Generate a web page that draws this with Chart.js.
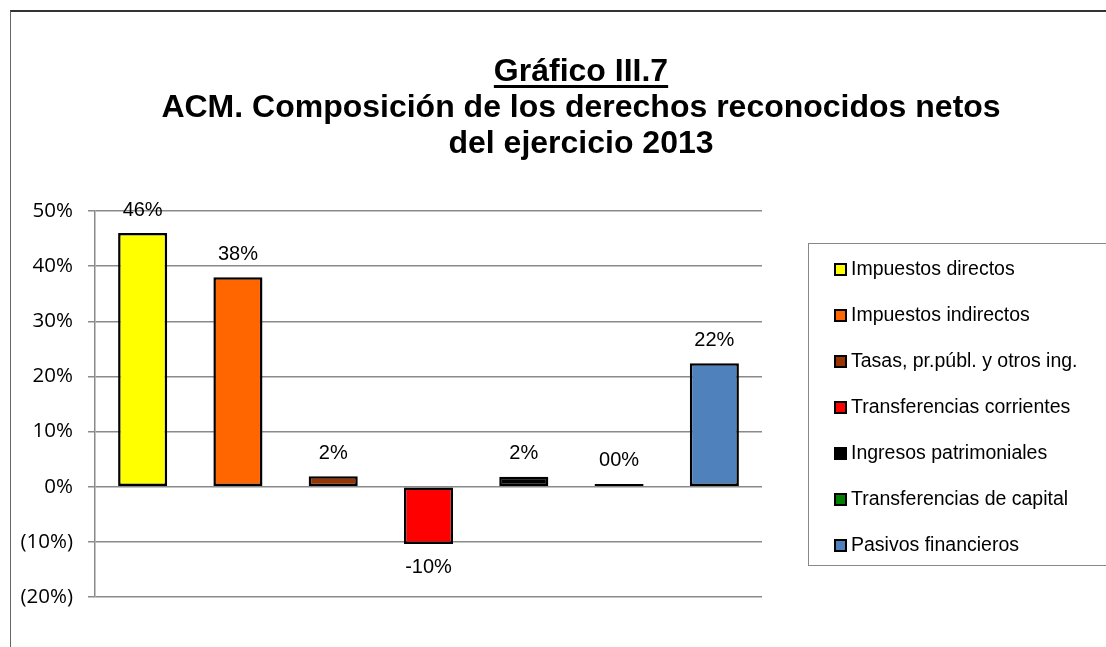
<!DOCTYPE html>
<html>
<head>
<meta charset="utf-8">
<script src="https://cdn.jsdelivr.net/npm/chart.js@4/dist/chart.umd.min.js"></script>
<style>
  body { margin: 0; background: #fff; }
  #wrap { position: relative; width: 1106px; height: 647px; overflow: hidden; font-family: "Liberation Sans", Arial, sans-serif; }
  #frame { position: absolute; left: 10px; top: 10px; width: 1200px; height: 700px; border-left: 1.5px solid #666; border-top: 2px solid #333; }
  #title { position: absolute; left: 81px; top: 52px; width: 1000px; text-align: center; font-weight: bold; font-size: 32px; line-height: 36px; color: #000; }
  #title u { text-decoration-thickness: 3px; text-underline-offset: 4px; }
  #legend { position: absolute; left: 808px; top: 243px; width: 320px; height: 321px; border: 1px solid #888; }
  .item { position: absolute; left: 25px; height: 24px; font-size: 19.5px; line-height: 24px; color: #000; white-space: nowrap; }
  .sw { display: inline-block; width: 9px; height: 9px; border: 2px solid #000; margin-right: 4px; vertical-align: -1px; }
  canvas { position: absolute; left: 0; top: 0; }
</style>
</head>
<body>
<div id="wrap">
  <div id="frame"></div>
  <canvas id="chart" width="1106" height="647"></canvas>
  <div id="title"><u>Gráfico III.7</u><br>ACM. Composición de los derechos reconocidos netos<br>del ejercicio 2013</div>
  <div id="legend"></div>
</div>
<script>
// datos (en %)
const categories = ['Impuestos directos', 'Impuestos indirectos', 'Tasas, pr.públ. y otros ing.', 'Transferencias corrientes', 'Ingresos patrimoniales', 'Transferencias de capital', 'Pasivos financieros'];
const values = [46.0, 38.0, 1.9, -10.4, 1.8, 0.5, 22.4];
const valueLabels = ['46%', '38%', '2%', '-10%', '2%', '00%', '22%'];
const colors = ['#FFFF00', '#FF6600', '#993300', '#FF0000', '#000000', '#008000', '#4F81BD'];
const yTicks = [-20, -10, 0, 10, 20, 30, 40, 50];
const yTickLabels = ['(20%)', '(10%)', '0%', '10%', '20%', '30%', '40%', '50%'];

// leyenda
const legendDiv = document.getElementById('legend');
categories.forEach((c, i) => {
  const div = document.createElement('div');
  div.className = 'item';
  div.style.top = (12 + i * 46) + 'px';
  div.innerHTML = `<span class="sw" style="background:${colors[i]}"></span>${c}`;
  legendDiv.appendChild(div);
});

// etiquetas encima / debajo de las barras
const barLabels = {
  id: 'barLabels',
  afterDatasetsDraw(chart) {
    const ctx = chart.ctx;
    const meta = chart.getDatasetMeta(0);
    ctx.save();
    ctx.font = '20px "Liberation Sans", Arial, sans-serif';
    ctx.fillStyle = '#000';
    ctx.textAlign = 'center';
    ctx.textBaseline = 'middle';
    meta.data.forEach((bar, i) => {
      const y = values[i] >= 0 ? bar.y - 23 : bar.y + 23;
      ctx.fillText(valueLabels[i], bar.x, y);
    });
    ctx.restore();
  }
};

new Chart(document.getElementById('chart'), {
  type: 'bar',
  data: {
    labels: categories,
    datasets: [{
      data: values,
      backgroundColor: colors,
      borderColor: '#000',
      borderWidth: 2.5,
      borderSkipped: false,
      categoryPercentage: 1,
      barPercentage: 0.515
    }]
  },
  options: {
    responsive: false,
    animation: false,
    layout: { padding: { left: 15, right: 344, top: 211, bottom: 50 } },
    plugins: { legend: { display: false }, tooltip: { enabled: false } },
    scales: {
      x: { display: false },
      y: {
        min: -20, max: 50,
        afterFit: s => { s.width = 80; },
        afterBuildTicks: s => { s.ticks = yTicks.map(v => ({ value: v })); },
        ticks: {
          padding: 15,
          color: '#000',
          font: { family: '"Open Sans", sans-serif', size: 20.5 },
          callback: v => yTickLabels[yTicks.indexOf(v)]
        },
        grid: { color: '#8a8a8a', lineWidth: 1.5, tickLength: 7 },
        border: { color: '#8a8a8a', width: 1.5 }
      }
    }
  },
  plugins: [barLabels]
});
</script>
</body>
</html>
